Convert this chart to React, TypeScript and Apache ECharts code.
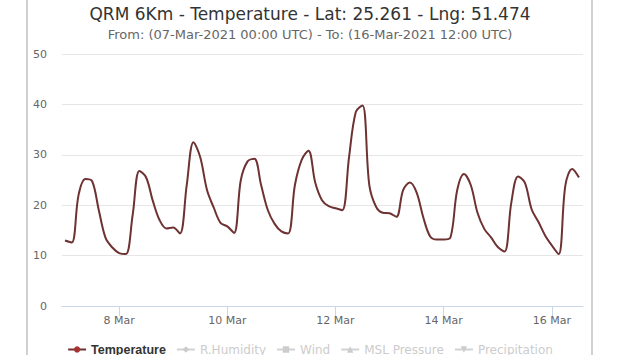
import React, { useEffect, useRef } from "react";
import * as echarts from "echarts";

const titleText = "QRM 6Km - Temperature - Lat: 25.261 - Lng: 51.474";
const subtitleText = "From: (07-Mar-2021 00:00 UTC) - To: (16-Mar-2021 12:00 UTC)";

// 3-hourly temperatures from 07-Mar-2021 00:00 UTC to 16-Mar-2021 12:00 UTC
const temperature = [
  13.0, 12.6, 22.0, 25.2, 24.8, 19.0, 13.5, 11.6,
  10.5, 10.3, 18.0, 26.8, 25.5, 20.8, 17.0, 15.4,
  15.6, 14.4, 24.0, 32.5, 29.5, 23.0, 19.5, 16.5,
  15.8, 14.5, 25.0, 28.7, 29.2, 24.0, 19.0, 16.3,
  14.8, 14.4, 24.0, 29.0, 30.8, 24.5, 21.0, 19.8,
  19.4, 19.0, 29.5, 38.5, 39.8, 24.0, 19.7, 18.5,
  18.4, 17.7, 23.0, 24.5, 22.5, 17.5, 13.8, 13.2,
  13.2, 13.6, 23.0, 26.2, 24.0, 18.5, 15.3, 13.6,
  11.7, 10.8, 20.5, 25.7, 24.5, 19.2, 16.7, 14.0,
  12.0, 10.3, 24.0, 27.2, 25.5,
];
const stepHours = 3;

// x ticks: hours since 07-Mar 00:00 UTC
const tickHours = [24, 72, 120, 168, 216];
const tickLabels = ["8 Mar", "10 Mar", "12 Mar", "14 Mar", "16 Mar"];

const legendNames = ["Temperature", "R.Humidity", "Wind", "MSL Pressure", "Precipitation"];
const legendSymbols = ["circle", "diamond", "rect", "triangle", "path://M0,0 L10,0 L5,10 Z"];

const yTicks = { min: 0, max: 50, interval: 10 };

export default function App() {
  const ref = useRef<HTMLDivElement>(null);
  useEffect(() => {
    if (!ref.current) return;
    const chart = echarts.init(ref.current, null, { renderer: "svg" });
    const font = "DejaVu Sans";
    const tempData = temperature.map((v, i) => [i * stepHours, v]);
    const series: any[] = legendNames.map((name, k) => ({
      name,
      type: "line",
      data: k === 0 ? tempData : [],
      smooth: 0.35,
      showSymbol: false,
      symbol: legendSymbols[k],
      symbolSize: 8,
      itemStyle: { color: k === 0 ? "#a83232" : "#999" },
      lineStyle: { color: k === 0 ? "#6e3232" : "#999", width: 2 },
    }));
    const selected: Record<string, boolean> = {};
    legendNames.forEach((n, k) => (selected[n] = k === 0));
    chart.setOption({
      animation: false,
      backgroundColor: "#ffffff",
      title: {
        text: titleText,
        subtext: subtitleText,
        left: "center",
        top: 0,
        itemGap: 6,
        textStyle: { fontFamily: font, fontSize: 17, fontWeight: "normal", color: "#333333" },
        subtextStyle: { fontFamily: font, fontSize: 13, color: "#666666" },
      },
      legend: {
        top: 338,
        left: "center",
        itemWidth: 18,
        itemHeight: 8,
        itemGap: 10,
        selected,
        inactiveColor: "#cccccc",
        textStyle: { fontFamily: font, fontSize: 12, color: "#333333" },
        data: legendNames.map((n, k) => ({
          name: n,
          textStyle:
            k === 0
              ? { fontWeight: "bold", fontFamily: "Liberation Sans", fontSize: 12.5 }
              : { fontWeight: "normal" },
        })),
      },
      grid: { left: 62, right: 37, top: 54, bottom: 49 },
      xAxis: {
        type: "value",
        min: -1.33,
        max: 229.8,
        splitLine: { show: false },
        axisLine: { lineStyle: { color: "#ccd6eb" } },
        axisTick: { customValues: tickHours, length: 10, lineStyle: { color: "#ccd6eb" } },
        axisLabel: {
          customValues: tickHours,
          margin: 9,
          color: "#666666",
          fontFamily: font,
          fontSize: 11,
          formatter: (v: number) => tickLabels[tickHours.indexOf(v)] ?? "",
        },
      },
      yAxis: {
        type: "value",
        min: yTicks.min,
        max: yTicks.max,
        interval: yTicks.interval,
        axisLine: { show: false },
        axisTick: { show: false },
        splitLine: { lineStyle: { color: "#e6e6e6" } },
        axisLabel: { color: "#666666", fontFamily: font, fontSize: 11, margin: 15 },
      },
      graphic: [
        { type: "line", shape: { x1: 27, y1: 0, x2: 27, y2: 355 }, style: { stroke: "#d0d0d0", lineWidth: 2 }, silent: true },
        { type: "line", shape: { x1: 592, y1: 0, x2: 592, y2: 355 }, style: { stroke: "#d0d0d0", lineWidth: 2 }, silent: true },
      ],
      series,
    });
    return () => chart.dispose();
  }, []);
  return (
    <div
      ref={ref}
      style={{ position: "fixed", left: 0, top: 0, width: 620, height: 355, background: "#fff" }}
    />
  );
}
